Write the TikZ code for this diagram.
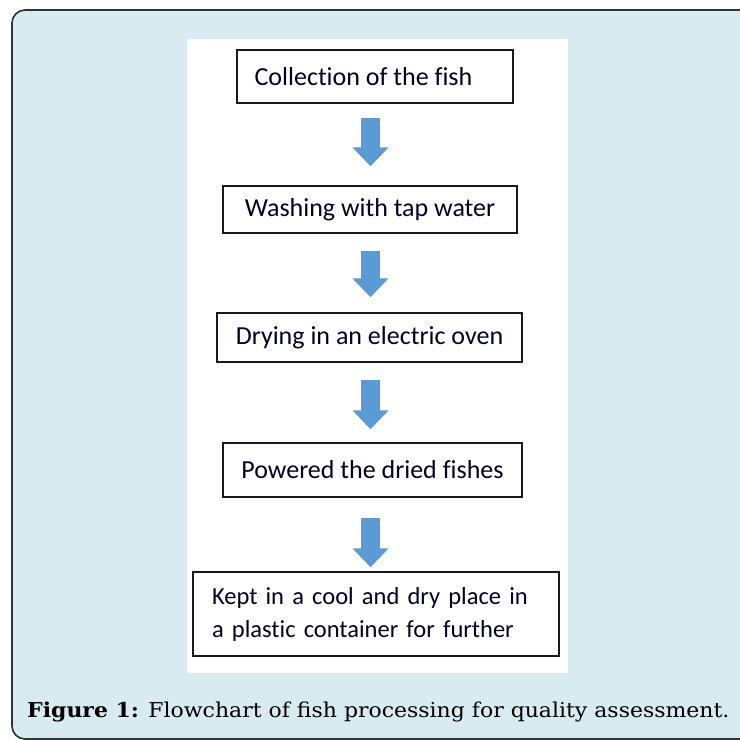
\documentclass[tikz,border=0pt]{standalone}
\usepackage{fontspec}
\setmainfont{DejaVu Serif}
\newfontfamily\boxfont[Ligatures=NoCommon, WordSpace=0.75]{Carlito}
\newfontfamily\boxfontb[Ligatures=NoCommon]{Carlito}
\usetikzlibrary{arrows.meta}
\definecolor{panelbg}{HTML}{D7EBF0}
\definecolor{arrowblue}{HTML}{5B9BD5}
\definecolor{framegray}{HTML}{333333}
\tikzset{
  stepbox/.style={draw=black!90, line width=1.4pt, fill=white, inner sep=0pt,
    font=\boxfont\fontsize{26}{33}\selectfont, text=black!85!blue},
  blockarrow/.style={draw=arrowblue, line width=19pt,
    -{Triangle[width=35pt,length=19pt,fill=arrowblue]}},
}
\begin{document}
\begin{tikzpicture}[x=1pt,y=-1pt]
\useasboundingbox (0,0) rectangle (740,740);
\begin{scope}
\clip (0,0) rectangle (740,740);
\draw[framegray, line width=1.6pt, fill=panelbg, rounded corners=13pt] (12,10) rectangle (770,739);
\end{scope}
\fill[white] (187,39) rectangle (568,673);
\node[stepbox, font=\boxfontb\fontsize{26}{33}\selectfont, minimum width=276pt, minimum height=53pt] (s1) at (375,76.5) {Collection of the fish\kern23pt};
\node[stepbox, minimum width=294pt, minimum height=47pt] (s2) at (370,209.5) {Washing with tap water};
\node[stepbox, minimum width=305pt, minimum height=49pt] (s3) at (369.5,337.5) {Drying in an electric oven};
\node[stepbox, minimum width=299pt, minimum height=54pt] (s4) at (372.5,470) {Powered the dried fishes};
\node[stepbox, font=\boxfontb\fontsize{24.5}{33}\selectfont, text width=328pt, inner xsep=19pt, minimum height=84pt, align=left] (s5) at (376,614) {Kept in a cool and dry place in\\a plastic container for further};
\coordinate (ax) at (370.5,0);
\draw[blockarrow, shorten <=14pt, shorten >=19pt] (s1.south -| ax) -- (s2.north -| ax);
\draw[blockarrow, shorten <=17pt, shorten >=15pt] (s2.south -| ax) -- (s3.north -| ax);
\draw[blockarrow, shorten <=17pt, shorten >=13pt] (s3.south -| ax) -- (s4.north -| ax);
\draw[blockarrow, shorten <=20pt, shorten >=4pt] (s4.south -| ax) -- (s5.north -| ax);
\node[anchor=base west, inner sep=0pt, font=\fontsize{20.5}{26}\selectfont] (cap) at (27,717) {\scalebox{1.072}[1]{\textbf{Figure 1:} Flowchart of fish processing for quality assessment.}};
\end{tikzpicture}
\end{document}
